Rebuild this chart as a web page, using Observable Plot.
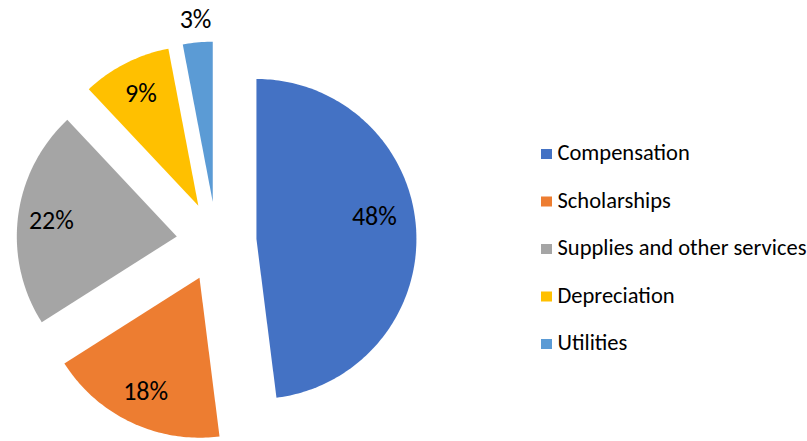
<!DOCTYPE html>
<html>
<head>
<meta charset="utf-8">
<script src="https://cdn.jsdelivr.net/npm/d3@7"></script>
<script src="https://cdn.jsdelivr.net/npm/@observablehq/plot@0.6"></script>
<style>
  html, body { margin: 0; padding: 0; background: #fff; }
  #chart { width: 807px; height: 441px; }
</style>
</head>
<body>
<div id="chart"></div>
<script>
// ---- Data ----
const categories = ["Compensation", "Scholarships", "Supplies and other services", "Depreciation", "Utilities"];
const values = [48, 18, 22, 9, 3];
const colors = ["#4472C4", "#ED7D31", "#A5A5A5", "#FFC000", "#5B9BD5"];

// ---- Geometry ----
const W = 807, H = 441;
const cx = 216, cy = 241, R = 160, explode = 40;
const total = d3.sum(values);
const FONT = "Carlito, Calibri, Lato, sans-serif";

const toRad = d => d * Math.PI / 180;
const pt = (ox, oy, ang, r) => [ox + r * Math.sin(ang), oy - r * Math.cos(ang)];

let acc = 0;
const slices = values.map((v, i) => {
  const a0 = acc / total * 2 * Math.PI;
  acc += v;
  const a1 = acc / total * 2 * Math.PI;
  const mid = (a0 + a1) / 2;
  const [ax, ay] = pt(cx, cy, mid, explode);
  const pts = [{x: ax, y: ay}];
  const n = Math.max(8, Math.ceil((a1 - a0) / toRad(1)));
  for (let k = 0; k <= n; k++) {
    const a = a0 + (a1 - a0) * k / n;
    const [x, y] = pt(ax, ay, a, R);
    pts.push({x, y});
  }
  // small slices get their label outside; the widest slice's label sits a bit higher (best fit)
  const lr = v < 5 ? 1.14 * R : (v > 40 ? 0.75 * R : 0.79 * R);
  const la = v > 40 ? mid - toRad(7) : mid;
  const [lx, ly] = pt(ax, ay, la, lr);
  return {cat: categories[i], value: v, color: colors[i], pts, lx, ly};
});

const labels = slices.map(s => ({x: s.lx, y: s.ly, text: s.value + "%"}));

const legendX = 541, legendY0 = 154, legendStep = 47.5, sw = 11;
const legend = categories.map((c, i) => ({cat: c, color: colors[i], y: legendY0 + i * legendStep}));

const marks = [];
for (const s of slices) {
  marks.push(Plot.line(s.pts, {x: "x", y: "y", fill: s.color, stroke: "none", curve: "linear"}));
}
marks.push(Plot.text(labels, {x: "x", y: "y", text: "text", fontSize: 26, fill: "#000", textAnchor: "middle", lineAnchor: "middle"}));
marks.push(Plot.rect(legend, {x1: legendX, x2: legendX + sw, y1: d => d.y - 5, y2: d => d.y + 5, fill: "color"}));
marks.push(Plot.text(legend, {x: legendX + 16, y: d => d.y - 1.5, text: "cat", fontSize: 22.5, fill: "#000", textAnchor: "start", lineAnchor: "middle"}));

const plot = Plot.plot({
  width: W, height: H,
  margin: 0,
  x: {domain: [0, W], range: [0, W], axis: null},
  y: {domain: [0, H], range: [0, H], axis: null},
  color: {type: "identity"},
  style: {fontFamily: FONT, background: "#fff", overflow: "visible"},
  marks
});
document.getElementById("chart").appendChild(plot);
</script>
</body>
</html>
